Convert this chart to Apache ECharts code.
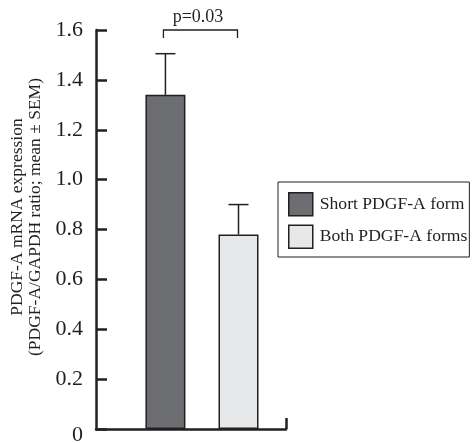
<!DOCTYPE html>
<html>
<head>
<meta charset="utf-8">
<script src="https://cdn.jsdelivr.net/npm/echarts@6/dist/echarts.min.js"></script>
<style>html,body{margin:0;padding:0;background:#fff;}#c{width:473px;height:443px;}</style>
</head>
<body>
<div id="c"></div>
<script>
const categories = ['Short PDGF-A form', 'Both PDGF-A forms'];
const positions = [1, 2];
const means = [1.34, 0.78];
const errTops = [1.505, 0.90];
const yTicks = [0, 0.2, 0.4, 0.6, 0.8, 1.0, 1.2, 1.4, 1.6];
const pLabel = 'p=0.03';
const yTitle = ['PDGF-A mRNA expression', '(PDGF-A/GAPDH ratio; mean \u00b1 SEM)'];
const colors = ['#6d6e71', '#e6e7e8'];
const ink = '#231f20';
const font = '"Liberation Serif", "DejaVu Serif", serif';

const chart = echarts.init(document.getElementById('c'));
const barSeries = categories.map((name, i) => ({
  name: name,
  type: 'bar',
  barWidth: 40,
  barGap: '-100%',
  data: [[positions[i], means[i]]],
  itemStyle: { color: colors[i], borderColor: ink, borderWidth: 1.5 },
  z: 2
}));

chart.setOption({
  animation: false,
  backgroundColor: '#fff',
  grid: { left: 96, top: 30, right: 187, bottom: 14, containLabel: false, outerBoundsMode: 'none' },
  legend: {
    data: categories,
    orient: 'vertical',
    left: 278, top: 182,
    padding: [10, 2, 8, 10],
    itemWidth: 24, itemHeight: 23, itemGap: 8,
    borderColor: ink, borderWidth: 1,
    icon: 'rect',
    textStyle: { fontFamily: font, fontSize: 17.6, color: ink, padding: [0, 0, 0, 2] },
    itemStyle: { borderColor: ink, borderWidth: 1.5 }
  },
  xAxis: {
    type: 'value', min: 0.05, max: 2.65,
    splitLine: { show: false },
    axisLabel: { show: false },
    axisLine: { show: true, onZero: false, lineStyle: { color: ink, width: 2.5 } },
    axisTick: { show: true, inside: true, length: 11, customValues: [2.65], lineStyle: { color: ink, width: 2.5 } }
  },
  yAxis: {
    type: 'value', min: 0, max: 1.6, interval: 0.2,
    splitLine: { show: false },
    axisLine: { show: true, lineStyle: { color: ink, width: 2.5 } },
    axisTick: { show: true, inside: true, length: 11, lineStyle: { color: ink, width: 2.5 } },
    axisLabel: {
      margin: 13, fontFamily: font, fontSize: 22, color: ink,
      formatter: v => (v === 0 ? '{z|0}' : v.toFixed(1)),
      rich: { z: { fontFamily: font, fontSize: 22, color: ink, padding: [12, 0, 0, 0] } }
    }
  },
  series: barSeries.concat([
    {
      type: 'custom',
      silent: true,
      z: 1,
      data: positions.map((p, i) => [p, means[i], errTops[i]]),
      renderItem: (params, api) => {
        const a = api.coord([api.value(0), api.value(1)]);
        const b = api.coord([api.value(0), api.value(2)]);
        const st = { stroke: ink, lineWidth: 1.5 };
        return { type: 'group', children: [
          { type: 'line', shape: { x1: a[0], y1: a[1], x2: b[0], y2: b[1] }, style: st },
          { type: 'line', shape: { x1: b[0] - 10, y1: b[1], x2: b[0] + 10, y2: b[1] }, style: st }
        ]};
      }
    },
    {
      type: 'custom',
      silent: true,
      clip: false,
      data: [[positions[0], positions[1], 1.6]],
      renderItem: (params, api) => {
        const a = api.coord([api.value(0), api.value(2)]);
        const b = api.coord([api.value(1), api.value(2)]);
        const st = { stroke: ink, lineWidth: 1.3, fill: null };
        return { type: 'group', children: [
          { type: 'polyline', shape: { points: [[a[0] - 2, a[1] + 8], [a[0] - 2, a[1]], [b[0] - 1, b[1]], [b[0] - 1, b[1] + 8]] }, style: st },
          { type: 'text', x: (a[0] + b[0]) / 2 - 4, y: a[1] - 13,
            style: { text: pLabel, fontFamily: font, fontSize: 18, fill: ink, align: 'center', verticalAlign: 'middle' } }
        ]};
      }
    }
  ]),
  graphic: [
    { type: 'text', x: 17, y: 217, rotation: Math.PI / 2,
      style: { text: yTitle[0], fontFamily: font, fontSize: 17.5, fill: ink, align: 'center', verticalAlign: 'middle' } },
    { type: 'text', x: 35, y: 217, rotation: Math.PI / 2,
      style: { text: yTitle[1], fontFamily: font, fontSize: 17.5, fill: ink, align: 'center', verticalAlign: 'middle' } }
  ]
});
</script>
</body>
</html>
